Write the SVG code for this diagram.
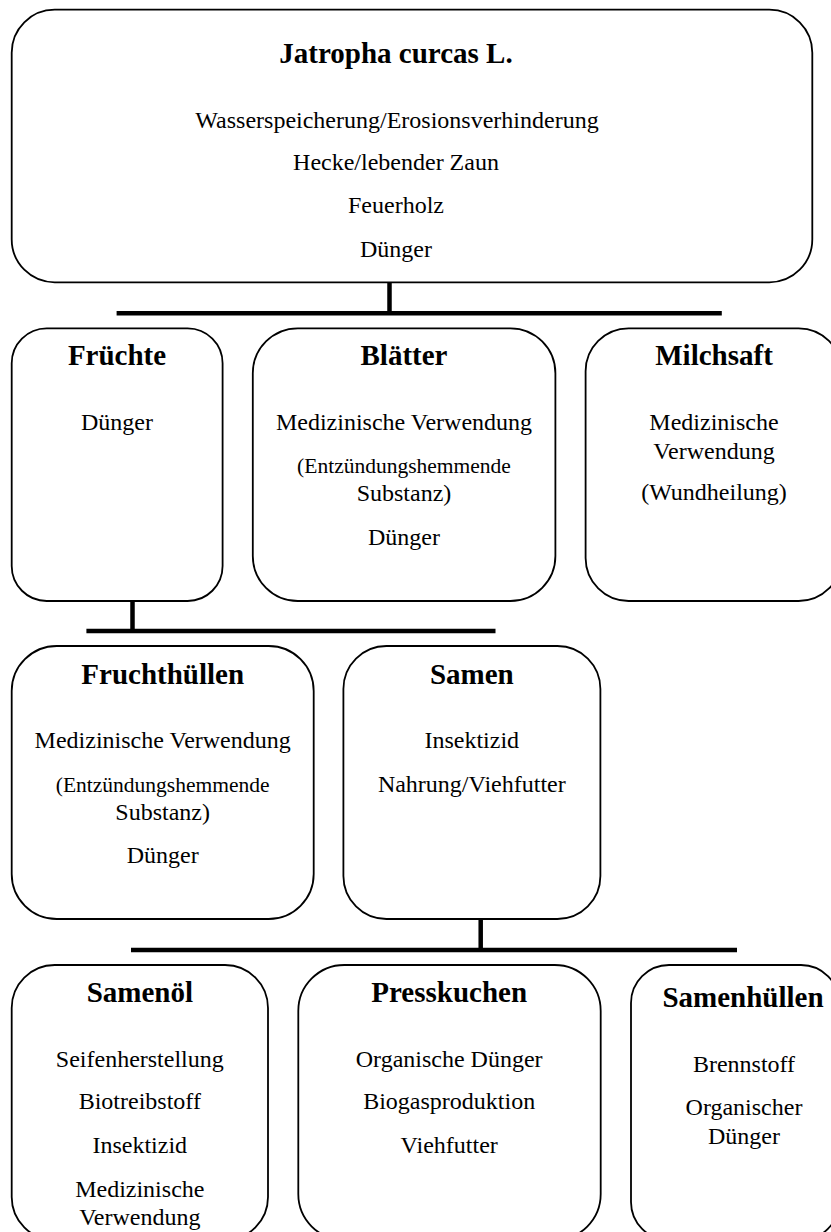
<svg xmlns="http://www.w3.org/2000/svg" width="831" height="1232" viewBox="0 0 831 1232">
<style>
.box{fill:#fff;stroke:#000;stroke-width:1.8}
.con{stroke:#000;stroke-width:4.5;fill:none}
text{font-family:"Liberation Serif","Times New Roman",serif;fill:#000;text-anchor:middle}
.h{font-size:29px;font-weight:bold}
.t{font-size:24px}
.s{font-size:21.5px}
</style>
<rect width="831" height="1232" fill="#fff"/>
<g id="connectors">
<line class="con" x1="389.5" y1="282" x2="389.5" y2="313"/>
<line class="con" x1="116.6" y1="313.3" x2="721.8" y2="313.3"/>
<line class="con" x1="132.5" y1="601" x2="132.5" y2="631"/>
<line class="con" x1="86.4" y1="631" x2="495.5" y2="631"/>
<line class="con" x1="480.7" y1="919" x2="480.7" y2="950"/>
<line class="con" x1="131" y1="950" x2="737" y2="950"/>
</g>
<g id="jatropha">
<rect class="box" x="11.7" y="9.7" width="800.6" height="272.6" rx="43" ry="43"/>
<text class="h" x="396" y="63">Jatropha curcas L.</text>
<text class="t" x="397" y="128">Wasserspeicherung/Erosionsverhinderung</text>
<text class="t" x="396" y="170">Hecke/lebender Zaun</text>
<text class="t" x="396" y="213">Feuerholz</text>
<text class="t" x="396" y="257">Dünger</text>
</g>
<g id="fruechte">
<rect class="box" x="11.7" y="328.3" width="210.9" height="272.7" rx="35" ry="35"/>
<text class="h" x="117" y="365">Früchte</text>
<text class="t" x="117" y="430">Dünger</text>
</g>
<g id="blaetter">
<rect class="box" x="252.8" y="328.3" width="302.6" height="272.7" rx="45" ry="45"/>
<text class="h" x="404" y="365">Blätter</text>
<text class="t" x="404" y="430">Medizinische Verwendung</text>
<text class="s" x="404" y="473">(Entzündungshemmende</text>
<text class="t" x="404" y="501">Substanz)</text>
<text class="t" x="404" y="545">Dünger</text>
</g>
<g id="milchsaft">
<rect class="box" x="585.6" y="328.3" width="256" height="272.7" rx="43" ry="43"/>
<text class="h" x="714" y="365">Milchsaft</text>
<text class="t" x="714" y="430">Medizinische</text>
<text class="t" x="714" y="459">Verwendung</text>
<text class="t" x="714" y="500">(Wundheilung)</text>
</g>
<g id="fruchthuellen">
<rect class="box" x="11.7" y="646" width="302" height="273" rx="45" ry="45"/>
<text class="h" x="162.7" y="684">Fruchthüllen</text>
<text class="t" x="162.7" y="748">Medizinische Verwendung</text>
<text class="s" x="162.7" y="791.7">(Entzündungshemmende</text>
<text class="t" x="162.7" y="820">Substanz)</text>
<text class="t" x="162.7" y="863">Dünger</text>
</g>
<g id="samen">
<rect class="box" x="343.4" y="646" width="257" height="273" rx="43" ry="43"/>
<text class="h" x="471.8" y="684">Samen</text>
<text class="t" x="471.8" y="748">Insektizid</text>
<text class="t" x="471.8" y="791.7">Nahrung/Viehfutter</text>
</g>
<g id="samenoel">
<rect class="box" x="11.7" y="965" width="256.3" height="275" rx="43" ry="43"/>
<text class="h" x="139.8" y="1002">Samenöl</text>
<text class="t" x="139.8" y="1066.7">Seifenherstellung</text>
<text class="t" x="139.8" y="1109">Biotreibstoff</text>
<text class="t" x="139.8" y="1153">Insektizid</text>
<text class="t" x="139.8" y="1196.7">Medizinische</text>
<text class="t" x="139.8" y="1225">Verwendung</text>
</g>
<g id="presskuchen">
<rect class="box" x="298.3" y="965" width="302.4" height="275" rx="46" ry="46"/>
<text class="h" x="449.2" y="1002">Presskuchen</text>
<text class="t" x="449.2" y="1066.7">Organische Dünger</text>
<text class="t" x="449.2" y="1109">Biogasproduktion</text>
<text class="t" x="449.2" y="1153">Viehfutter</text>
</g>
<g id="samenhuellen">
<rect class="box" x="631" y="965" width="208" height="275" rx="38" ry="38"/>
<text class="h" x="743" y="1007">Samenhüllen</text>
<text class="t" x="744" y="1071.7">Brennstoff</text>
<text class="t" x="744" y="1115">Organischer</text>
<text class="t" x="744" y="1144">Dünger</text>
</g>
</svg>
